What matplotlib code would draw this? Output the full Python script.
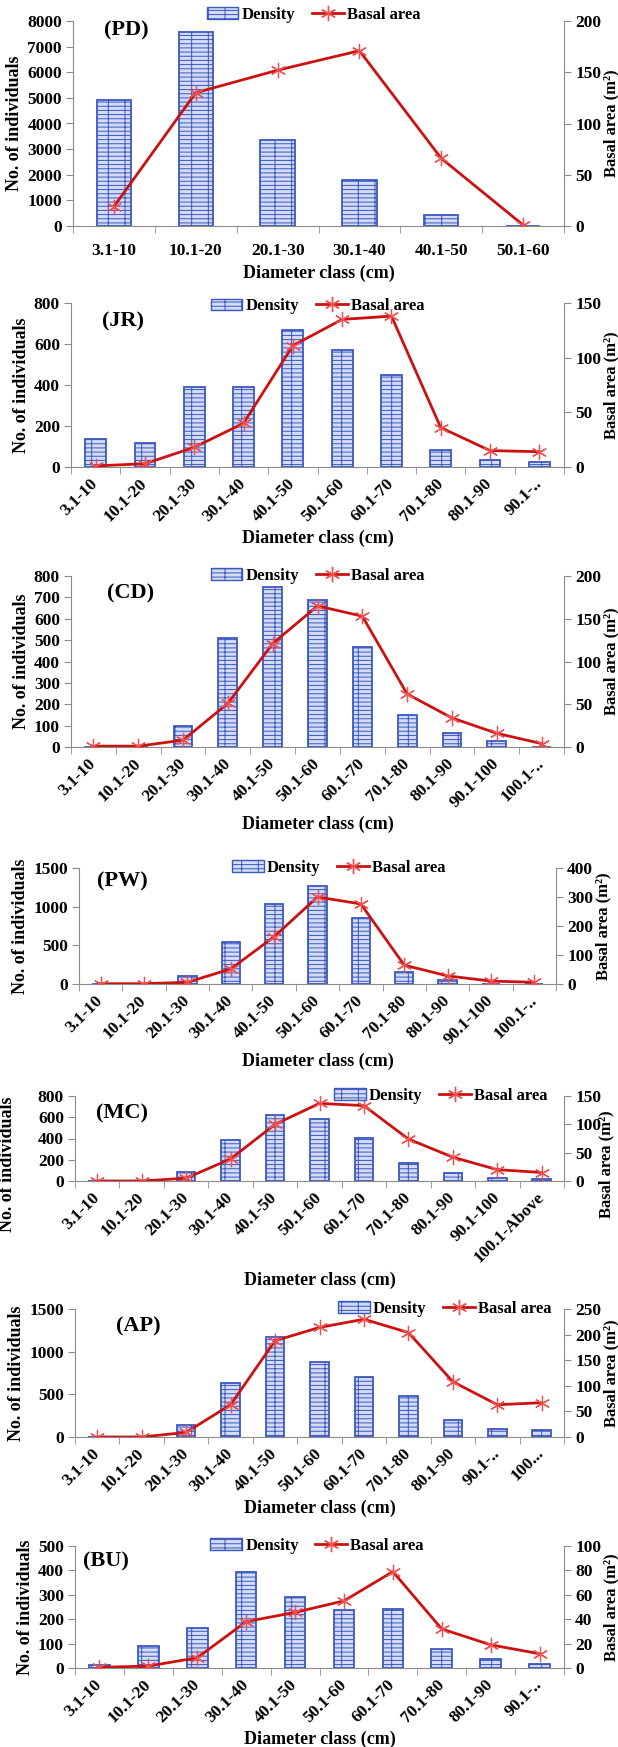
import matplotlib
matplotlib.use("Agg")
import matplotlib.pyplot as plt
from matplotlib.patches import Patch
from matplotlib.lines import Line2D
import numpy as np

plt.rcParams['font.family'] = ['Liberation Serif', 'DejaVu Serif']
plt.rcParams['font.weight'] = 'bold'
plt.rcParams['hatch.linewidth'] = 0.7

# diameter classes
cls6 = ["3.1-10", "10.1-20", "20.1-30", "30.1-40", "40.1-50", "50.1-60"]
cls10 = ["3.1-10", "10.1-20", "20.1-30", "30.1-40", "40.1-50", "50.1-60",
         "60.1-70", "70.1-80", "80.1-90", "90.1-.."]
cls11 = ["3.1-10", "10.1-20", "20.1-30", "30.1-40", "40.1-50", "50.1-60",
         "60.1-70", "70.1-80", "80.1-90", "90.1-100", "100.1-.."]
cls11_mc = cls11[:10] + ["100.1-Above"]
cls11_ap = cls11[:9] + ["90.1-..", "100..."]

# density (no. of individuals) and basal area (m2)
pd_density = [4900, 7560, 3340, 1800, 440, 0]
pd_basal = [19, 130, 152, 171, 66, 1]

jr_density = [135, 119, 390, 390, 667, 572, 447, 81, 32, 22]
jr_basal = [1, 3, 18, 40, 111, 135, 138, 36, 15, 14]

cd_density = [0, 0, 98, 511, 747, 690, 469, 148, 66, 28, 0]
cd_basal = [1, 1, 8, 51, 121, 165, 153, 62, 34, 16, 4]

pw_density = [0, 0, 108, 540, 1037, 1271, 852, 156, 52, 0, 0]
pw_basal = [1, 1, 6, 52, 163, 300, 276, 65, 28, 10, 6]

mc_density = [0, 0, 82, 384, 620, 580, 406, 173, 76, 31, 19]
mc_basal = [0, 0, 5, 39, 100, 137, 133, 74, 42, 20, 15]

ap_density = [0, 0, 136, 631, 1169, 884, 701, 475, 203, 97, 78]
ap_basal = [0, 0, 9, 63, 188, 214, 230, 204, 108, 63, 67]

bu_density = [14, 90, 162, 393, 291, 236, 242, 79, 37, 18]
bu_basal = [0.5, 1.6, 8.4, 38, 45.6, 55, 79, 32, 19, 11.7]

W, H = 618, 1747
fig = plt.figure(figsize=(W / 100, H / 100), dpi=100)

BAR_FC = '#d3dcf4'
BAR_EC = '#3a58c0'
LINE_C = '#cc1111'
MARK_C = '#f05050'
GREY = '#8c8c8c'
HATCH = '----|'


def panel(box, labels, dens, basal, dmax, dstep, bmax, bstep, tag, tagxy,
          legx, legy=1.0, legloc='center', rot=45, fs=12.5, ylab_y=None):
    l, r, t, b = box
    ax = fig.add_axes([l / W, 1 - b / H, (r - l) / W, (b - t) / H])
    n = len(labels)
    x = np.arange(n)
    ax.bar(x, dens, 0.42, color=BAR_FC, edgecolor=BAR_EC, hatch=HATCH, lw=1.3, zorder=2)
    ax.set_xlim(-0.5, n - 0.5)
    ax.set_ylim(0, dmax)
    ax.set_yticks(np.arange(0, dmax + 1, dstep))
    ax.set_xticks(x)
    if rot:
        ax.set_xticklabels(labels, rotation=45, ha='right', va='center',
                           rotation_mode='anchor', fontsize=fs)
    else:
        ax.set_xticklabels(labels, fontsize=fs)
    ax.set_xticks(np.arange(n + 1) - 0.5, minor=True)
    ax.tick_params(axis='x', which='major', length=0, pad=10 if rot else 12)
    ax.tick_params(axis='x', which='minor', length=5, color=GREY)
    ax.tick_params(axis='y', labelsize=fs, length=5, color=GREY, pad=3)
    ax.set_ylabel("No. of individuals", fontsize=13, fontweight='bold', labelpad=3)
    ax.set_xlabel("Diameter class (cm)", fontsize=13, fontweight='bold', labelpad=4)
    for s in ['top', 'right']:
        ax.spines[s].set_visible(False)
    for s in ['left', 'bottom']:
        ax.spines[s].set_color(GREY)

    ax2 = ax.twinx()
    ax2.plot(x, basal, color=LINE_C, lw=2, marker=(6, 2, 0), ms=11,
             mec=MARK_C, mfc=MARK_C, mew=0.9, zorder=3)
    ax2.set_ylim(0, bmax)
    ax2.set_yticks(np.arange(0, bmax + 1, bstep))
    ax2.tick_params(axis='y', labelsize=fs, length=5, color=GREY, pad=3)
    ax2.set_ylabel("Basal area (m²)", fontsize=12, fontweight='bold', labelpad=2)
    for s in ['top', 'left', 'bottom']:
        ax2.spines[s].set_visible(False)
    ax2.spines['right'].set_color(GREY)
    if ylab_y is not None:
        ax.yaxis.set_label_coords((16 - l) / (r - l), ylab_y)
        ax2.yaxis.set_label_coords((598 - l) / (r - l), ylab_y)

    ax.text(tagxy[0], tagxy[1], tag, transform=ax.transAxes, fontsize=16,
            fontweight='bold', ha='center', va='center', zorder=5)
    handles = [Patch(facecolor=BAR_FC, edgecolor=BAR_EC, hatch=HATCH),
               Line2D([], [], color=LINE_C, lw=2, marker=(6, 2, 0), ms=11,
                      mec=MARK_C, mfc=MARK_C)]
    ax2.legend(handles, ["Density", "Basal area"], loc=legloc,
               bbox_to_anchor=(legx, legy), ncol=2, frameon=False,
               prop={'size': 12, 'weight': 'bold'}, handlelength=1.9,
               handletextpad=0.2, columnspacing=1.0, borderaxespad=0,
               borderpad=0)


panel((73, 564, 21, 226), cls6, pd_density, pd_basal, 8000, 1000, 200, 50,
      "(PD)", (0.108, 0.955), 0.49, legy=1.03, rot=0)
panel((71, 564, 303, 467), cls10, jr_density, jr_basal, 800, 200, 150, 50,
      "(JR)", (0.105, 0.89), 0.5, legy=0.98)
panel((71, 564, 576, 747), cls11, cd_density, cd_basal, 800, 100, 200, 50,
      "(CD)", (0.12, 0.9), 0.5)
panel((79, 556, 868, 984), cls11, pw_density, pw_basal, 1500, 500, 400, 100,
      "(PW)", (0.09, 0.88), 0.545)
panel((75, 564, 1096, 1181), cls11_mc, mc_density, mc_basal, 800, 200, 150, 50,
      "(MC)", (0.096, 0.8), 0.967, legloc='center right', ylab_y=0.2)
panel((75, 564, 1309, 1437), cls11_ap, ap_density, ap_basal, 1500, 500, 250, 50,
      "(AP)", (0.129, 0.86), 0.975, legloc='center right')
panel((75, 564, 1546, 1668), cls10, bu_density, bu_basal, 500, 100, 100, 20,
      "(BU)", (0.064, 0.87), 0.495)

fig.savefig("out.png", dpi=100)
